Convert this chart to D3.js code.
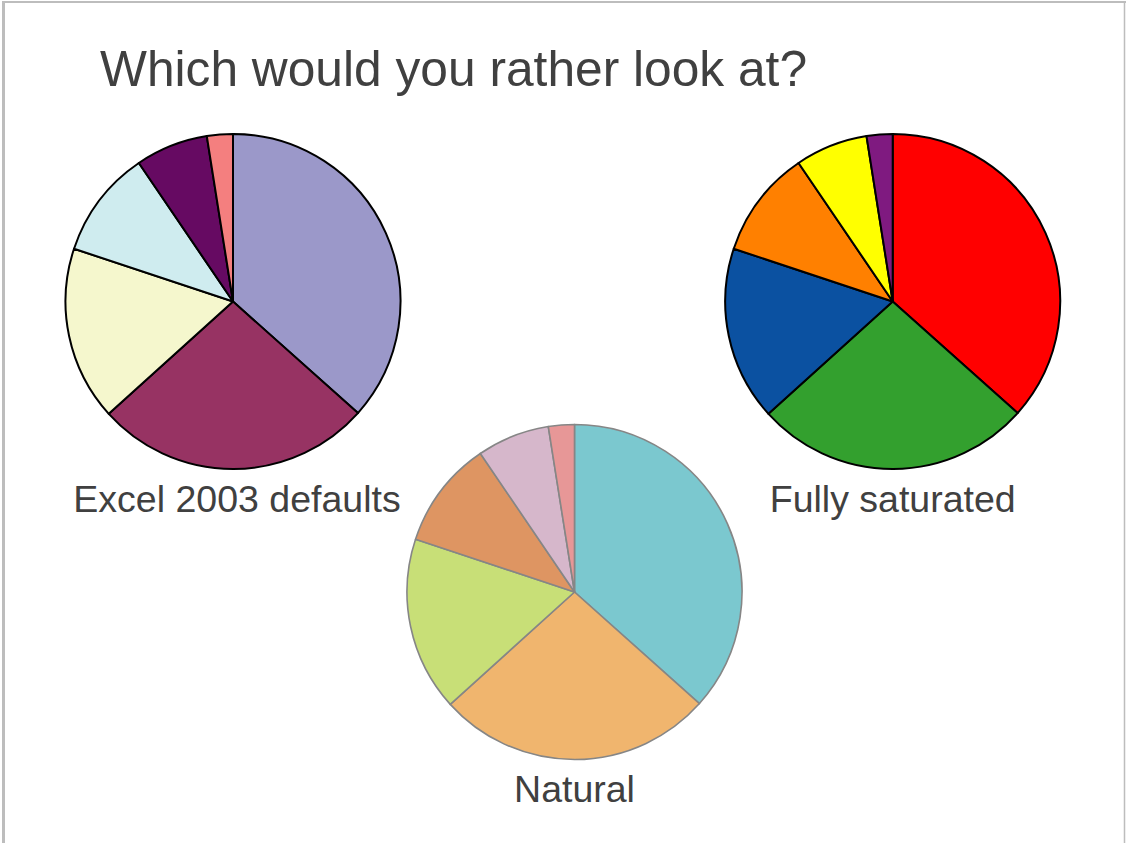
<!DOCTYPE html>
<html>
<head>
<meta charset="utf-8">
<script src="https://cdn.jsdelivr.net/npm/d3@7"></script>
<style>
  html, body { margin: 0; padding: 0; background: #fff; }
  svg { display: block; }
</style>
</head>
<body>
<svg id="chart" width="1126" height="843"></svg>
<script>
// ---- data ----
const title = "Which would you rather look at?";
const sliceValues = [36.6, 26.7, 16.8, 10.4, 7.0, 2.5];
const pieNames = ["Excel 2003 defaults", "Fully saturated", "Natural"];
const excelColors = ["#9b98c9", "#973363", "#f5f7cd", "#cfecef", "#660a62", "#f47f7f"];
const saturatedColors = ["#ff0000", "#33a02e", "#0b51a1", "#ff8000", "#ffff00", "#7f1a80"];
const naturalColors = ["#7bc8cf", "#f0b56e", "#c8df77", "#de9562", "#d6b7cb", "#e79797"];

// ---- layout ----
const svg = d3.select("#chart");
const W = 1126, H = 843;

// slide frame
svg.append("rect").attr("x", 0).attr("y", 0).attr("width", W).attr("height", H).attr("fill", "#fff");
svg.append("line").attr("x1", 3.5).attr("x2", 3.5).attr("y1", 1).attr("y2", H).attr("stroke", "#bdbdbd").attr("stroke-width", 3);
svg.append("line").attr("x1", 2).attr("x2", W).attr("y1", 2).attr("y2", 2).attr("stroke", "#bdbdbd").attr("stroke-width", 2);
svg.append("line").attr("x1", 1124.5).attr("x2", 1124.5).attr("y1", 1).attr("y2", H).attr("stroke", "#bdbdbd").attr("stroke-width", 1.5);

// title
svg.append("text")
  .attr("x", 100).attr("y", 86)
  .attr("font-family", "Liberation Sans, Arial, sans-serif")
  .attr("font-size", 49.7)
  .attr("fill", "#404040")
  .text(title);

const pies = [
  { name: pieNames[0], colors: excelColors, cx: 233, cy: 301.5, stroke: "#000", sw: 2, labelY: 511.5 },
  { name: pieNames[1], colors: saturatedColors, cx: 892.7, cy: 301.5, stroke: "#000", sw: 2, labelY: 511.5 },
  { name: pieNames[2], colors: naturalColors, cx: 574.5, cy: 592, stroke: "#868686", sw: 1.6, labelY: 801.5 }
];
const R = 167.5;

const pieGen = d3.pie().sort(null).value(d => d);
const arcGen = d3.arc().innerRadius(0).outerRadius(R);

pies.forEach(p => {
  const g = svg.append("g").attr("transform", `translate(${p.cx},${p.cy})`);
  const color = d3.scaleOrdinal().domain(d3.range(sliceValues.length)).range(p.colors);
  g.selectAll("path")
    .data(pieGen(sliceValues))
    .join("path")
    .attr("d", arcGen)
    .attr("fill", (d, i) => color(i))
    .attr("stroke", p.stroke)
    .attr("stroke-width", p.sw)
    .attr("stroke-linejoin", "round");
  svg.append("text")
    .attr("x", p.cx + (p === pies[0] ? 4 : 0)).attr("y", p.labelY)
    .attr("text-anchor", "middle")
    .attr("font-family", "Liberation Sans, Arial, sans-serif")
    .attr("font-size", 37.5)
    .attr("fill", "#404040")
    .text(p.name);
});
</script>
</body>
</html>
